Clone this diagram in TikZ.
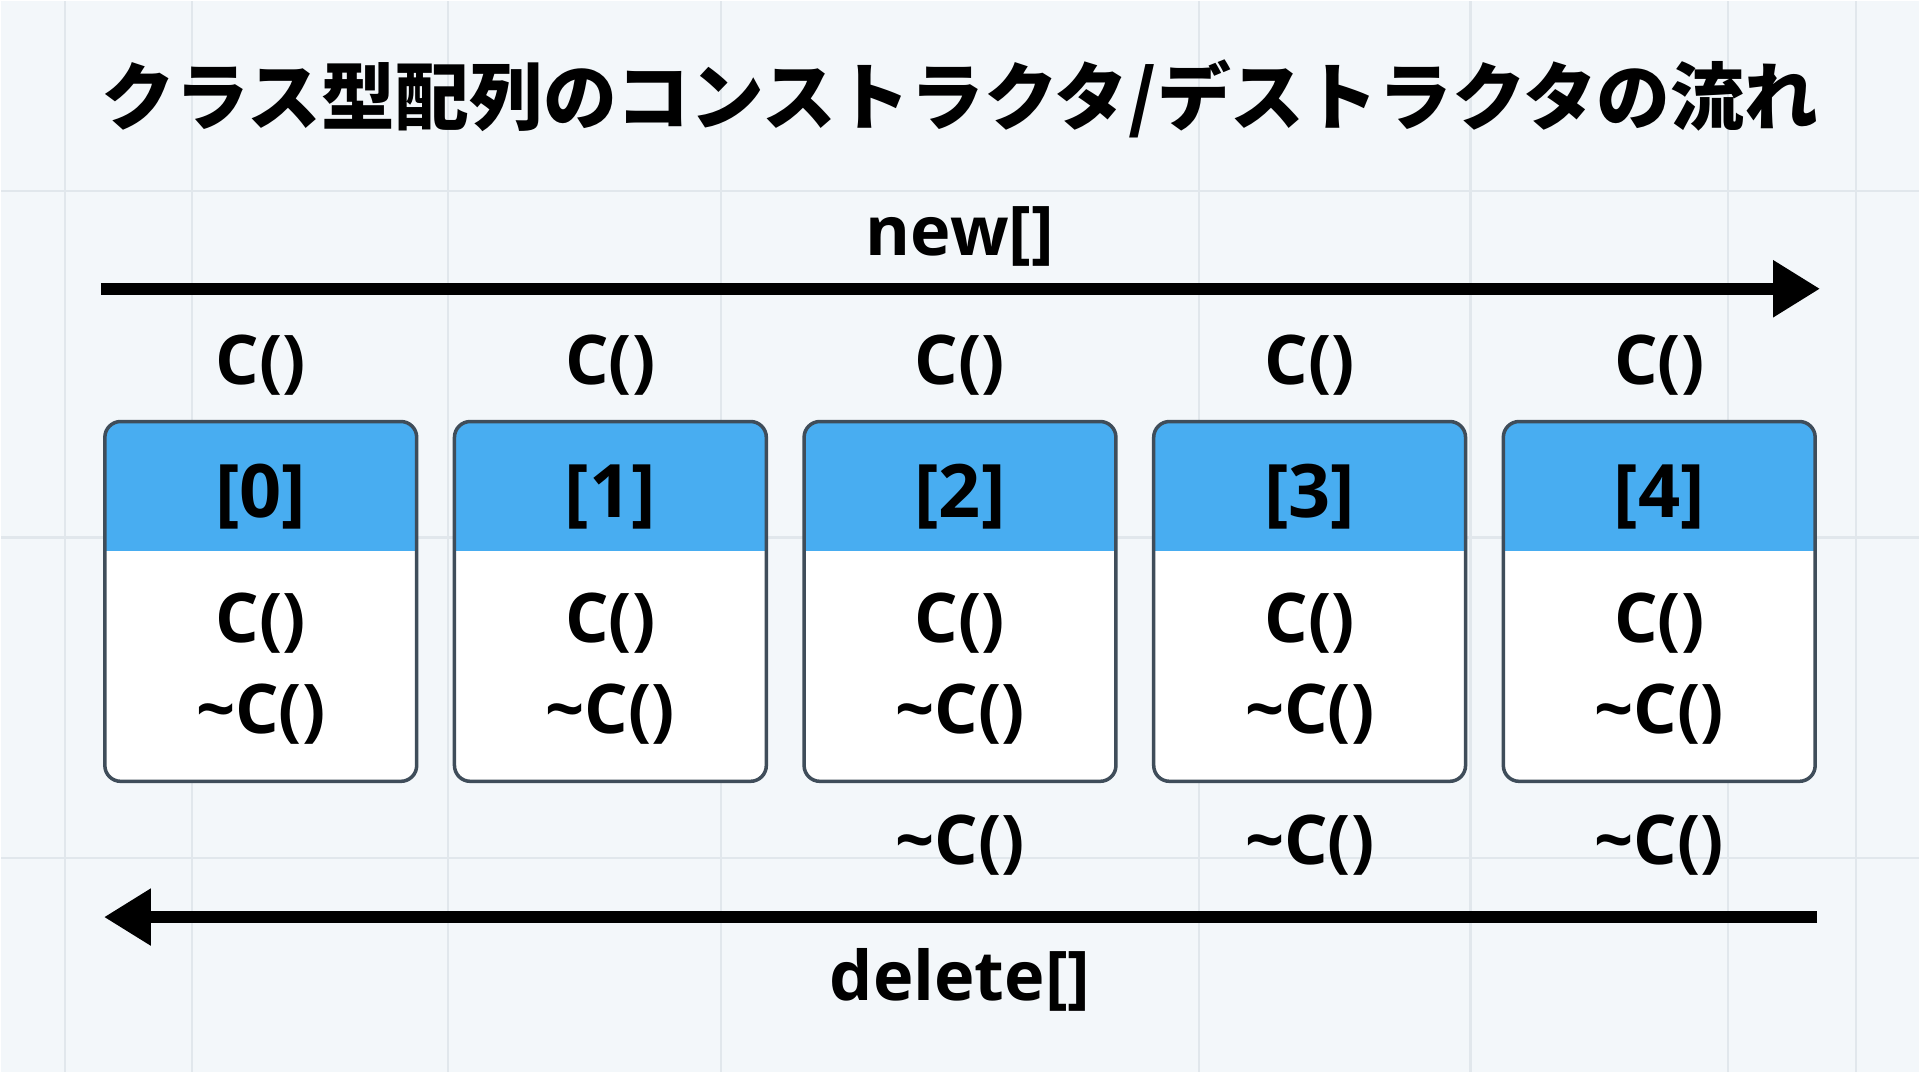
\documentclass[tikz,border=0pt]{standalone}
\usepackage{fontspec}
\setmainfont{Open Sans}
\newfontfamily\jpfont{Noto Sans CJK JP}
\usetikzlibrary{arrows.meta}
\definecolor{paper}{HTML}{F3F7FA}
\definecolor{gridline}{HTML}{E1E7EC}
\definecolor{header}{HTML}{48ADF1}
\definecolor{rim}{HTML}{3F4D5A}

\begin{document}
\begin{tikzpicture}[x=0.01cm,y=-0.01cm,
		label/.style={font=\fontsize{19.5}{21}\selectfont\bfseries,inner sep=0pt},
		flow/.style={line width=3.4pt,-{Triangle[length=0.47cm,width=0.54cm]}},
		cell/.style={draw=rim,line width=1pt,fill=white,rounded corners=4.5pt,
			minimum width=3.12cm,minimum height=3.6cm,inner sep=0pt,
			path picture={\fill[header,sharp corners] (path picture bounding box.north west) rectangle ([yshift=-1.3cm]path picture bounding box.north east);}}]
		% Paper and faint grid behind everything
		\fill [paper] (0,0) rectangle (1920,1072);
		\foreach \gx in {64,191,447,721,1199,1471,1729,1857}
		\draw [gridline,line width=0.6pt] (\gx,0) -- (\gx,1072);
		\foreach \gy in {190,537,858}
		\draw [gridline,line width=0.6pt] (0,\gy) -- (1920,\gy);
		% Title
		\node [font=\jpfont\bfseries\fontsize{21}{24}\selectfont] (title) at (960,98) {クラス型配列のコンストラクタ/デストラクタの流れ};
		% new[] runs left to right
		\coordinate (newstart) at (100,288);
		\coordinate (newend) at (1821,288);
		\draw [flow] (newstart) -- (newend);
		\node [label] (newlbl) at (960,236) {new[]};
		% One cell per element, with the calls above and inside
		\foreach \i in {0,...,4}{
			\node [cell] (cell\i) at (260+350*\i,601) {};
			\node [label,font=\fontsize{21}{23}\selectfont\bfseries] (idx\i) at (260+350*\i,496) {[\i]};
			\node [label] (ctor\i) at (260+350*\i,623) {C()};
			\node [label] (dtor\i) at (260+350*\i,714) {\textasciitilde C()};
			\node [label] (born\i) at (260+350*\i,364) {C()};
		}
		% Destructor calls below the last three cells
		\foreach \i in {2,3,4}
		\node [label] (gone\i) at (260+350*\i,845) {\textasciitilde C()};
		% delete[] runs right to left
		\coordinate (delstart) at (1818,917);
		\coordinate (delend) at (103,917);
		\draw [flow] (delstart) -- (delend);
		\node [label] (dellbl) at (960,980) {delete[]};
\end{tikzpicture}
\end{document}
